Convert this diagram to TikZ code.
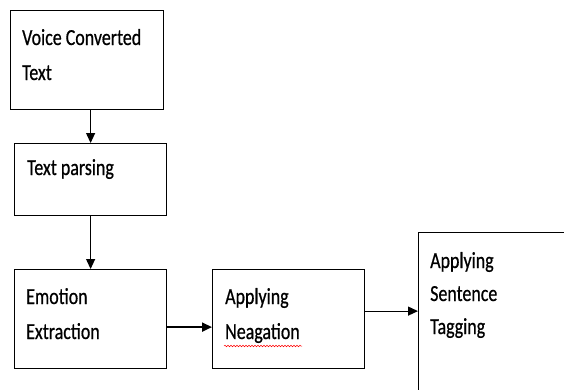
\documentclass[tikz,border=0pt]{standalone}
\usepackage{fontspec}
\setmainfont{Carlito}[FakeStretch=0.78, FakeBold=0.6]
\usetikzlibrary{arrows.meta,decorations.pathmorphing}

\begin{document}
\begin{tikzpicture}[x=1pt, y=-1pt,
    box/.style={draw, line width=1.2pt, rectangle, inner sep=0pt, anchor=north west},
    txt/.style={font=\fontsize{23}{35}\selectfont, align=left, anchor=base west, inner sep=0pt},
    arr/.style={-{Triangle[length=10pt,width=9pt]}, line width=1.2pt}]
    \useasboundingbox (0,0) rectangle (564,389);
    \clip (0,0) rectangle (564,389);
    % boxes
    \node[box, minimum width=153pt, minimum height=99pt] (voice) at (10,10) {};
    \node[box, minimum width=152pt, minimum height=72pt] (parse) at (14,143) {};
    \node[box, minimum width=152pt, minimum height=99pt] (emo) at (14,269) {};
    \node[box, minimum width=152pt, minimum height=99pt] (neg) at (212,269) {};
    \node[box, minimum width=220pt, minimum height=220pt] (tag) at (418,232) {};
    % texts (anchored on the baseline of the last line)
    \node[txt] (tvoice) at (22,80) {Voice Converted\\Text};
    \node[txt] (tparse) at (27,175) {Text parsing};
    \node[txt] (temo) at (26,339) {Emotion\\Extraction};
    \node[txt] (tneg) at (225,339) {Applying\\Neagation};
    \node[txt, font=\fontsize{23}{33}\selectfont] (ttag) at (430,334) {Applying\\Sentence\\Tagging};
    \draw[red, line width=0.5pt, decorate, decoration={snake, amplitude=0.8pt, segment length=3pt}] (224,346) -- (302,346);
    % arrows
    \draw[arr] (voice.south -| parse.north) -- (parse.north);
    \draw[arr] (parse.south) -- (emo.north);
    \draw[arr, line width=1.8pt] ([yshift=-8pt]emo.east) -- ([yshift=-8pt]neg.west);
    \draw[arr] ([yshift=8pt]neg.east) -- ([yshift=8pt]neg.east -| tag.west);
\end{tikzpicture}
\end{document}
